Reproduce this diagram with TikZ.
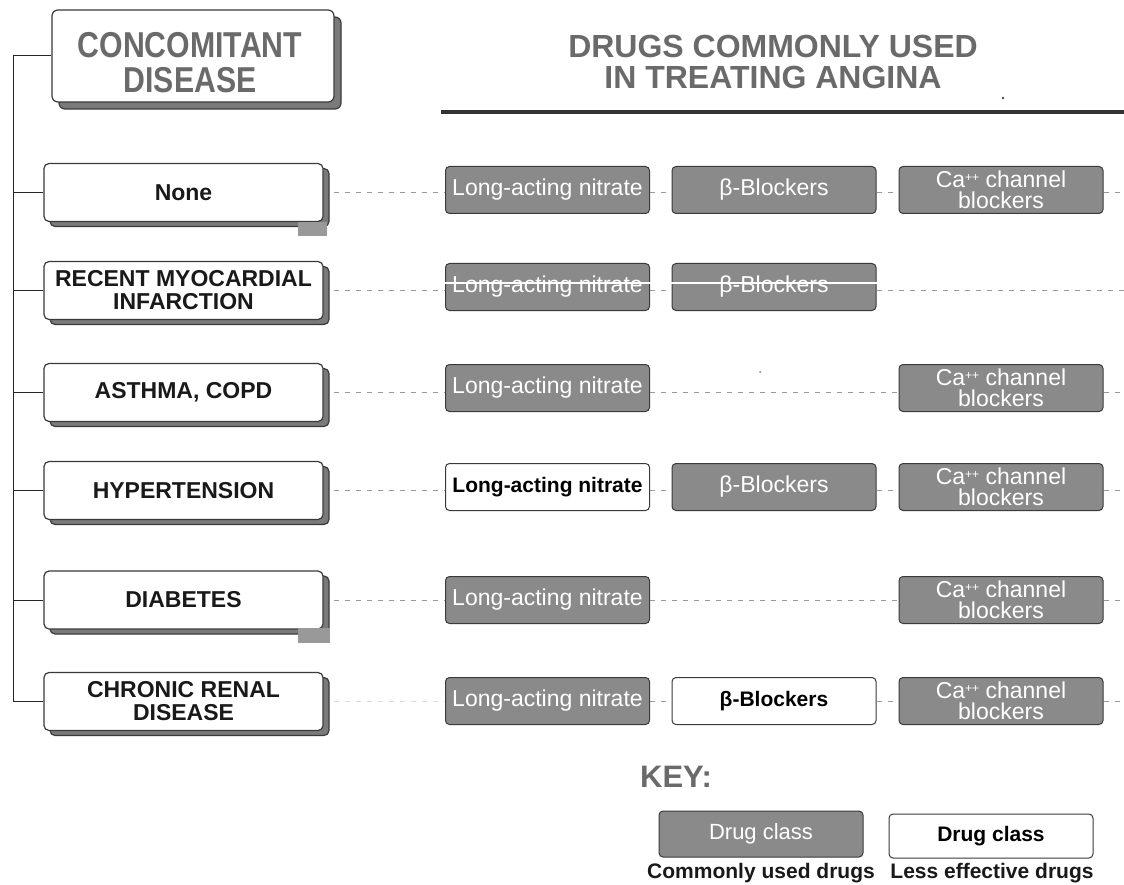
\documentclass[tikz,border=0pt]{standalone}
\usepackage{fontspec}
\setmainfont{Liberation Sans}
\newfontfamily\condsans[FakeStretch=0.84]{Liberation Sans}
\usetikzlibrary{shadows}
\definecolor{boxgray}{HTML}{8A8A8A}
\definecolor{edgegray}{HTML}{3A3A3A}
\definecolor{titlegray}{HTML}{6A6A6A}
\definecolor{shadegray}{HTML}{7A7A7A}
\definecolor{dashgray}{HTML}{9A9A9A}
\newcommand{\capp}{Ca\raisebox{0.55ex}{\fontsize{12}{12}\selectfont ++} channel\\blockers}

\begin{document}
\begin{tikzpicture}[x=1pt,y=-1pt,
  header/.style={draw=edgegray, line width=1.2pt, fill=white, rounded corners=6pt,
    minimum width=282pt, minimum height=92pt,
    drop shadow={shadow xshift=7pt, shadow yshift=-7pt, fill=shadegray, draw=edgegray, opacity=1}},
  headertext/.style={align=center, text=titlegray,
    font=\condsans\fontsize{36}{35}\selectfont\bfseries},
  disease/.style={draw=edgegray, line width=1.2pt, fill=white, rounded corners=5pt,
    minimum width=279pt, minimum height=58pt, inner sep=0pt, align=center, text=black!90,
    font=\fontsize{23}{23}\selectfont\bfseries,
    drop shadow={shadow xshift=6pt, shadow yshift=-5pt, fill=shadegray, draw=edgegray, opacity=1}},
  drug/.style={draw=edgegray, line width=1pt, fill=boxgray, rounded corners=4pt,
    minimum width=204pt, minimum height=47pt, inner sep=0pt, align=center, text=white,
    font=\fontsize{23}{21}\selectfont},
  weakdrug/.style={drug, fill=white, text=black, font=\fontsize{21}{21}\selectfont\bfseries},
  link/.style={dashgray, line width=0.8pt, dash pattern=on 5pt off 6pt},
  trunkline/.style={black!85, line width=1pt},
  headline/.style={align=center, text=titlegray, font=\fontsize{32}{31}\selectfont\bfseries},
  keylabel/.style={font=\fontsize{21}{21}\selectfont\bfseries, text=black!90},
]
\useasboundingbox (0,0) rectangle (1124,885);
\fill[white] (0,0) rectangle (1124,885);

% headings
\node[header] (hdr) at (193,56) {};
\node[headertext] (hdrtext) at (190,63) {CONCOMITANT\\DISEASE};
\node[headline] (ttl) at (773,62) {DRUGS COMMONLY USED\\IN TREATING ANGINA};
\coordinate (ruleL) at (441,112);
\coordinate (ruleR) at (1124,112);
\draw[line width=3.5pt, black!80] (ruleL) -- (ruleR);
\fill[black!70] (1003,98) circle (1.3pt);

% concomitant diseases
\node[disease] (dNone) at (183.5,192.5) {None};
\node[disease] (dMI)   at (183.5,290.5) {RECENT MYOCARDIAL\\INFARCTION};
\node[disease] (dAst)  at (183.5,392.5) {ASTHMA, COPD};
\node[disease] (dHyp)  at (183.5,490.5) {HYPERTENSION};
\node[disease] (dDia)  at (183.5,600)   {DIABETES};
\node[disease] (dCrd)  at (183.5,701.5) {CHRONIC RENAL\\DISEASE};
\fill[black!40] (298,222) rectangle (327,236);
\fill[black!40] (298,628) rectangle (330,643);

% tree on the left
\coordinate (trunk) at (13,0);
\draw[trunkline] (hdr.west) -- (hdr.west -| trunk) -- (trunk |- dCrd.west) -- (dCrd.west);
\foreach \d in {dNone,dMI,dAst,dHyp,dDia}
  \draw[trunkline] (\d.west) -- (\d.west -| trunk);

% drug classes, row by row
\node[drug] (n1) at (547.5,190) {Long-acting nitrate};
\node[drug] (n2) at (774,190)   {β-Blockers};
\node[drug] (n3) at (1001,190)  {\capp};

\node[drug] (m1) at (547.5,287) {Long-acting nitrate};
\node[drug] (m2) at (774,287)   {β-Blockers};

\node[drug] (a1) at (547.5,388) {Long-acting nitrate};
\node[drug] (a3) at (1001,388)  {\capp};

\node[weakdrug] (h1) at (547.5,487) {Long-acting nitrate};
\node[drug] (h2) at (774,487)   {β-Blockers};
\node[drug] (h3) at (1001,487)  {\capp};

\node[drug] (g1) at (547.5,600) {Long-acting nitrate};
\node[drug] (g3) at (1001,600)  {\capp};

\node[drug] (c1) at (547.5,701) {Long-acting nitrate};
\node[weakdrug] (c2) at (774,701) {β-Blockers};
\node[drug] (c3) at (1001,701)  {\capp};

% dashed row links
\draw[link, shorten <=10pt] (dNone.east) -- (dNone.east -| n1.west);
\draw[link] (n1.east |- dNone.east) -- (n2.west |- dNone.east);
\draw[link] (n2.east |- dNone.east) -- (n3.west |- dNone.east);
\draw[link] (n3.east |- dNone.east) -- (ruleR |- dNone.east);

\draw[link, shorten <=10pt] (dMI.east) -- (dMI.east -| m1.west);
\draw[link] (m1.east |- dMI.east) -- (m2.west |- dMI.east);
\draw[link] (m2.east |- dMI.east) -- (ruleR |- dMI.east);
\draw[white, line width=1.5pt] ([yshift=4pt]m1.west) -- ([yshift=4pt]m2.east);

\draw[link, shorten <=10pt] (dAst.east) -- (dAst.east -| a1.west);
\draw[link] (a1.east |- dAst.east) -- (a3.west |- dAst.east);
\draw[link] (a3.east |- dAst.east) -- (ruleR |- dAst.east);
\fill[black!50] (760,372) circle (1pt);

\draw[link, shorten <=10pt] (dHyp.east) -- (dHyp.east -| h1.west);
\draw[link] (h1.east |- dHyp.east) -- (h2.west |- dHyp.east);
\draw[link] (h2.east |- dHyp.east) -- (h3.west |- dHyp.east);
\draw[link] (h3.east |- dHyp.east) -- (ruleR |- dHyp.east);

\draw[link, shorten <=10pt] (dDia.east) -- (dDia.east -| g1.west);
\draw[link] (g1.east |- dDia.east) -- (g3.west |- dDia.east);
\draw[link] (g3.east |- dDia.east) -- (ruleR |- dDia.east);

\draw[link, opacity=0.35, shorten <=10pt] (dCrd.east) -- (dCrd.east -| c1.west);
\draw[link] (c1.east |- dCrd.east) -- (c2.west |- dCrd.east);
\draw[link] (c2.east |- dCrd.east) -- (c3.west |- dCrd.east);
\draw[link] (c3.east |- dCrd.east) -- (ruleR |- dCrd.east);

% key
\node[font=\fontsize{31}{31}\selectfont\bfseries, text=titlegray] (key) at (676,777) {KEY:};
\node[drug, font=\fontsize{22}{22}\selectfont, minimum height=46pt] (kc) at (761,834) {Drug class};
\node[weakdrug, minimum height=44pt] (kl) at (991,836) {Drug class};
\node[keylabel] (kct) at (761,873) {Commonly used drugs};
\node[keylabel] (klt) at (992,873) {Less effective drugs};
\end{tikzpicture}
\end{document}
